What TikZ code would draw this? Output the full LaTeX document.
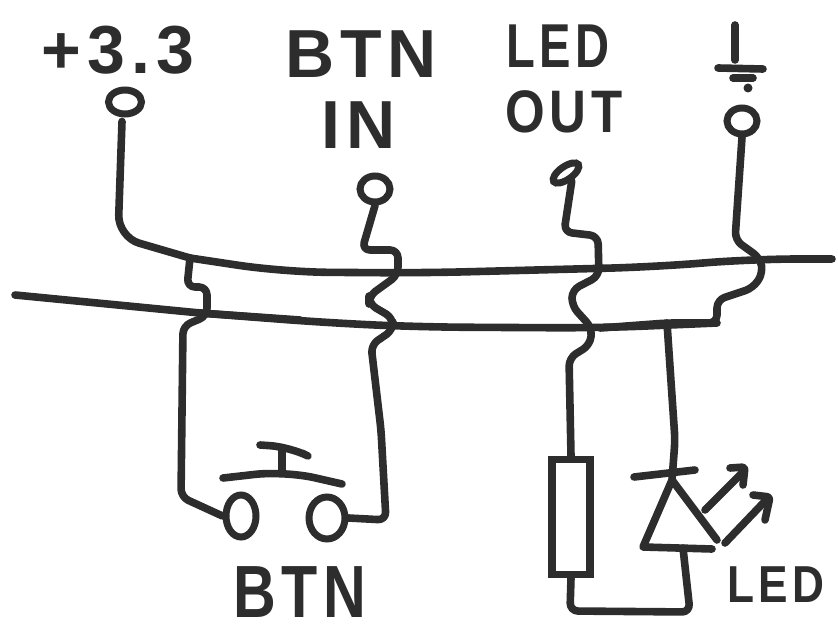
\documentclass[tikz,border=0pt]{standalone}
\usepackage{fontspec}
\setmainfont{Liberation Sans}[BoldFont={Liberation Sans Bold}]
\usetikzlibrary{shapes.geometric,arrows.meta}
\definecolor{inkc}{HTML}{2D2D2D}
\tikzset{
  wire/.style={draw=inkc,line width=7.6pt,line cap=round,line join=round,rounded corners=8pt},
  bus/.style={wire,rounded corners=45pt},
  pad/.style={draw=inkc,ellipse,line width=7pt,inner sep=0pt},
  hand/.style={text=inkc,inner sep=0pt,font=\bfseries\fontsize{#1}{#1}\selectfont\addfontfeatures{LetterSpace=9}},
}
\begin{document}
\begin{tikzpicture}[x=1pt,y=-1pt]
  \useasboundingbox (0,0) rectangle (838,644);
  \node[hand=68] (plus) at (118,50) {+3.3};
  \node[hand=68] (btntop) at (361,54) {BTN};
  \node[hand=68] (btnin) at (359,125) {IN};
  \node[hand=62] (ledtop) at (558,46) {\scalebox{.76}[1]{LED}};
  \node[hand=60] (ledout) at (564,112) {\scalebox{.85}[1]{OUT}};
  \node[hand=74] (btnlow) at (300,592) {\scalebox{.8}[1]{BTN}};
  \node[hand=52] (ledlow) at (776,585) {\scalebox{.85}[1]{LED}};
  \node[pad,minimum width=33pt,minimum height=24pt] (p33) at (125,102) {};
  \node[pad,minimum width=30pt,minimum height=26pt] (pin) at (375,189) {};
  \node[pad,minimum width=30pt,minimum height=13pt,rotate=35] (pout) at (566,173) {};
  \node[pad,minimum width=30pt,minimum height=26pt] (pgnd) at (742,121) {};
  \node[pad,minimum width=30pt,minimum height=42pt] (kl) at (241,516) {};
  \node[pad,minimum width=36pt,minimum height=42pt] (kr) at (327,518) {};
  \node[draw=inkc,line width=7.6pt,minimum width=38pt,minimum height=115pt,inner sep=0pt] (res) at (571,517) {};
  \coordinate (tap33) at (190,258);
  \coordinate (tapled) at (667,323);
  \coordinate (ledtip) at (672,480);
  \coordinate (ledbase) at (683,548);
  % rails
  \draw[wire,rounded corners=22pt] (p33.south) ++(-3,4) -- (118,237) -- (tap33);
  \draw[bus] (tap33) -- (283,272) -- (420,273) -- (653,267) -- (753,259) -- (832,259);
  \draw[wire] (15,295) -- (200,313) -- (300,320);
  \draw[bus] (200,313) -- (330,323) -- (420,327) -- (600,328) -- (717,323);
  \draw[wire] (600,328) -- (tapled) -- (717,323) -- (717,300) -- (753,288) -- (763,273) -- (760,258) -- (735,240) -- (pgnd.south);
  % hops
  \draw[wire] (tap33) -- (187,287) -- (207,287) -- (207,316) -- (183,326) -- (181,497) -- (kl.west);
  \draw[wire] (pin.south) -- (362,250) -- (398,250) -- (398,275) -- (369,296) -- (369,304) -- (393,318) -- (393,330) -- (371,345) -- (381,430) -- (386,520) -- (kr.east);
  \draw[wire] (pout.south) -- (564,232) -- (598,236) -- (599,276) -- (572,290) -- (572,306) -- (592,328) -- (590,345) -- (569,358) -- (res.north);
  \draw[wire] (res.south) -- (570,611) -- (690,612) -- (ledbase);
  \draw[wire] (tapled) -- (675,440) -- (ledtip);
  % switch
  \draw[wire,rounded corners=30pt] (223,478) -- (285,471) -- (342,484);
  \draw[wire] (282,472) -- (282,449);
  \draw[wire,rounded corners=20pt] (260,445) -- (290,447) -- (302,453);
  % diode
  \draw[wire,rounded corners=0pt] (717,540) -- (ledtip) -- (643,547) -- (712,549);
  \draw[wire] (634,477) -- (695,470);
  \draw[wire,rounded corners=3pt] (705,510) -- (743,472);
  \draw[wire,rounded corners=3pt] (730,468) -- (745,467) -- (743,485);
  \draw[wire] (725,543) -- (768,498);
  \draw[wire,rounded corners=3pt] (753,495) -- (770,497) -- (765,520);
  % ground
  \draw[wire] (735,25) -- (735,60);
  \draw[wire] (718,68) -- (763,69);
  \draw[wire] (733,78) -- (753,78);
  \fill[inkc] (748,88) circle (4.5pt);
\end{tikzpicture}
\end{document}
